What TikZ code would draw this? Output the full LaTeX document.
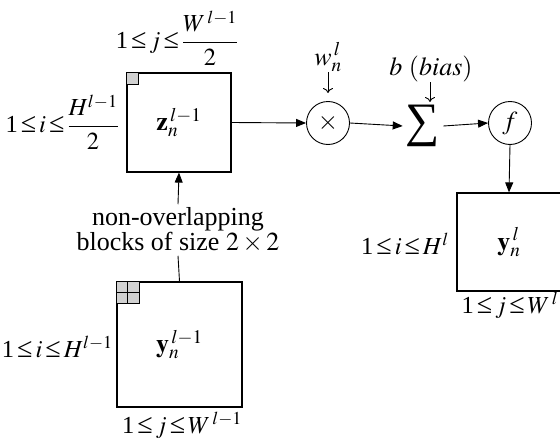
\documentclass[tikz,border=0pt]{standalone}
\usepackage{mathptmx}
\usepackage[no-math]{fontspec}
\setmainfont{Liberation Serif}
\usetikzlibrary{arrows.meta}
\newcommand\lee{\kern3pt{\fontsize{28}{21}\selectfont ≤}\kern3pt}
\begin{document}
\begin{tikzpicture}[x=1pt,y=-1pt,
  every node/.style={font=\fontsize{26}{21}\selectfont, inner sep=0pt},
  lab/.style={font=\fontsize{24.5}{21}\selectfont},
  box/.style={draw, line width=1.2pt, minimum width=#1, inner sep=0pt},
  circ/.style={draw, circle, line width=0.9pt, minimum size=43pt},
  conn/.style={line width=0.9pt, -{Triangle[length=10pt,width=8pt]}},
  down/.style={line width=0.9pt, -{To[length=5pt,width=10pt]}},
  cell/.style={draw, line width=1pt, fill=black!18}]
\useasboundingbox (0,0) rectangle (560,439);
% boxes
\node[box=104pt, minimum height=99pt] (zbox) at (179,122.5) {$\mathbf{z}_n^{\,l-1}$};
\node[box=125pt, minimum height=125pt] (ybot) at (179.5,344.5) {$\mathbf{y}_n^{\,l-1}$};
\node[box=104pt, minimum height=98pt] (ybox) at (509,242) {$\mathbf{y}_n^{\,l}$};
% small cells
\draw[cell] (zbox.north west) rectangle ++(12,12);
\draw[cell] (ybot.north west) rectangle ++(23,22);
\draw[line width=1pt] ([xshift=11.5pt]ybot.north west) -- ++(0,22)
  ([yshift=-11pt]ybot.north west) -- ++(23,0);
% operators
\node[circ] (mult) at (328,123) {$\times$};
\node[font=\fontsize{48}{48}\selectfont] (sum) at (423,126) {∑};
\node[circ] (f) at (510,123) {$f$};
% labels
\node[lab] (ljtop) at (177,38) {1\lee$j$\lee$\displaystyle\frac{W^{\,l-1}}{2}$};
\node[lab, anchor=east] (litop) at (119,122) {1\lee$i$\lee$\displaystyle\frac{H^{l-1}}{2}$};
\node (wl) at (328,57) {$w_n^{\,l}$};
\node (bias) at (431,69) {$b\ (bias)$};
\node[lab, anchor=east] (liy) at (449,244) {1\lee$i$\lee$H^{l}$};
\node[lab] (ljy) at (510,305) {1\lee$j$\lee$W^{\,l}$};
\node[lab, anchor=east] (libot) at (113,347) {1\lee$i$\lee$H^{l-1}$};
\node[lab] (ljbot) at (182,425) {1\lee$j$\lee$W^{\,l-1}$};
\node[align=center, inner ysep=3pt] (txt) at (178,230) {non-overlapping\\blocks of size $2\times2$};
% arrows
\coordinate (wstart) at (328,72);
\coordinate (wend) at (328,93);
\coordinate (bstart) at (430,82);
\coordinate (bend) at (430,102);
\draw[down] (wstart) -- (wend);
\draw[down] (bstart) -- (bend);
\draw[conn] (zbox.east) -- (mult.west);
\draw[conn] (mult.east) -- ([xshift=-3pt]sum.west);
\draw[conn] ([xshift=3pt]sum.east) -- (f.west);
\draw[conn] (f.south) -- (ybox.north);
\draw[line width=0.9pt] (ybot.north) -- (txt.south);
\draw[conn] (txt.north) -- (zbox.south);
\end{tikzpicture}
\end{document}
